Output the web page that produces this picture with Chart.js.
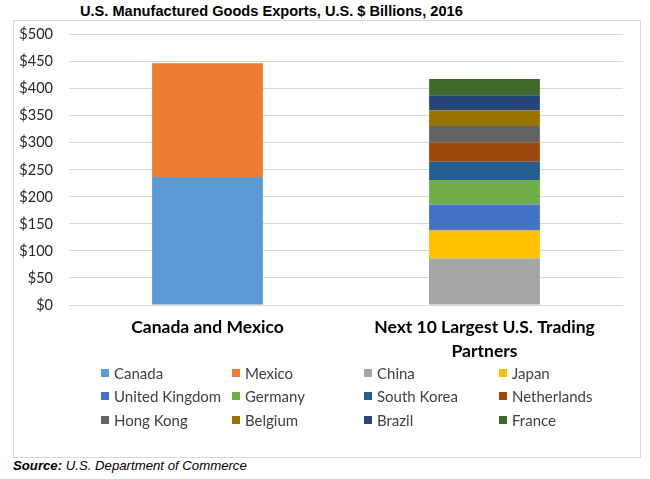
<!DOCTYPE html>
<html>
<head>
<meta charset="utf-8">
<script src="https://cdn.jsdelivr.net/npm/chart.js@4.4.1/dist/chart.umd.min.js"></script>
<style>
  body { margin: 0; width: 650px; height: 479px; background: #fff; position: relative; overflow: hidden; }
  #title { position: absolute; left: 80px; top: 3px; font: bold 14.6px "Liberation Sans", Arial, sans-serif; color: #000; white-space: nowrap; }
  #box { position: absolute; left: 13px; top: 20px; width: 626px; height: 436px; border: 1px solid #d9d9d9; }
  #chart { position: absolute; left: 0; top: -11px; }
  #legend { position: absolute; left: 87px; top: 340px; display: grid; grid-template-columns: 131px 132px 135px 120px; grid-auto-rows: 23.5px; font: 15px Lato, sans-serif; color: #404040; }
  #legend div { display: flex; align-items: center; white-space: nowrap; }
  #legend span { display: inline-block; width: 8px; height: 8px; margin-right: 5px; }
  #source { position: absolute; left: 13px; top: 458px; font: italic 13.2px "Liberation Sans", Arial, sans-serif; color: #000; }
</style>
</head>
<body>
<div id="title">U.S. Manufactured Goods Exports, U.S. $ Billions, 2016</div>
<div id="box">
  <canvas id="chart" width="626" height="356"></canvas>
  <div id="legend"></div>
</div>
<div id="source"><b>Source:</b> U.S. Department of Commerce</div>
<script>
// categories on the x axis
const categories = ['Canada and Mexico', ['Next 10 Largest U.S. Trading', 'Partners']];
// trading partners, which bar they sit in, and exports in $ billions
const partners = ['Canada', 'Mexico', 'China', 'Japan', 'United Kingdom', 'Germany',
    'South Korea', 'Netherlands', 'Hong Kong', 'Belgium', 'Brazil', 'France'];
const partnerGroup = [0, 0, 1, 1, 1, 1, 1, 1, 1, 1, 1, 1];
const exportValues = [237, 210, 86, 52, 48, 45, 34, 36, 30, 29, 28, 30];
const yTicks = [0, 50, 100, 150, 200, 250, 300, 350, 400, 450, 500];

const colors = ['#5B9BD5', '#ED7D31', '#A5A5A5', '#FFC000', '#4472C4', '#70AD47',
    '#255E91', '#9E480E', '#636363', '#997300', '#264478', '#43682B'];

const datasets = partners.map((name, i) => ({
    label: name,
    data: categories.map((c, j) => (j === partnerGroup[i] ? exportValues[i] : null)),
    backgroundColor: colors[i],
    borderWidth: 0,
    categoryPercentage: 1,
    barPercentage: 0.4,
}));

const chart = new Chart(document.getElementById('chart'), {
    type: 'bar',
    data: { labels: categories, datasets: datasets },
    options: {
        responsive: false,
        animation: false,
        layout: { padding: { top: 3, right: 17, left: 0, bottom: 0 } },
        plugins: { legend: { display: false }, tooltip: { enabled: false } },
        scales: {
            x: {
                stacked: true,
                grid: { display: false },
                border: { display: false },
                ticks: { padding: 2, color: '#000', font: { family: 'Lato', size: 17.5, weight: 'bold', lineHeight: 1.4 } },
                afterFit: (scale) => { scale.height = 61; },
            },
            y: {
                stacked: true,
                min: 0,
                max: 500,
                afterBuildTicks: (scale) => { scale.ticks = yTicks.map(v => ({ value: v })); },
                grid: { color: '#d9d9d9', drawTicks: false },
                border: { display: false },
                ticks: { padding: 16, color: '#262626', font: { family: 'Lato', size: 14.5 }, callback: (v) => '$' + v },
                afterFit: (scale) => { scale.width = 55; },
            },
        },
    },
});

const legend = document.getElementById('legend');
chart.data.datasets.forEach((ds) => {
    const item = document.createElement('div');
    const sw = document.createElement('span');
    sw.style.background = ds.backgroundColor;
    item.appendChild(sw);
    item.appendChild(document.createTextNode(ds.label));
    legend.appendChild(item);
});
</script>
</body>
</html>
